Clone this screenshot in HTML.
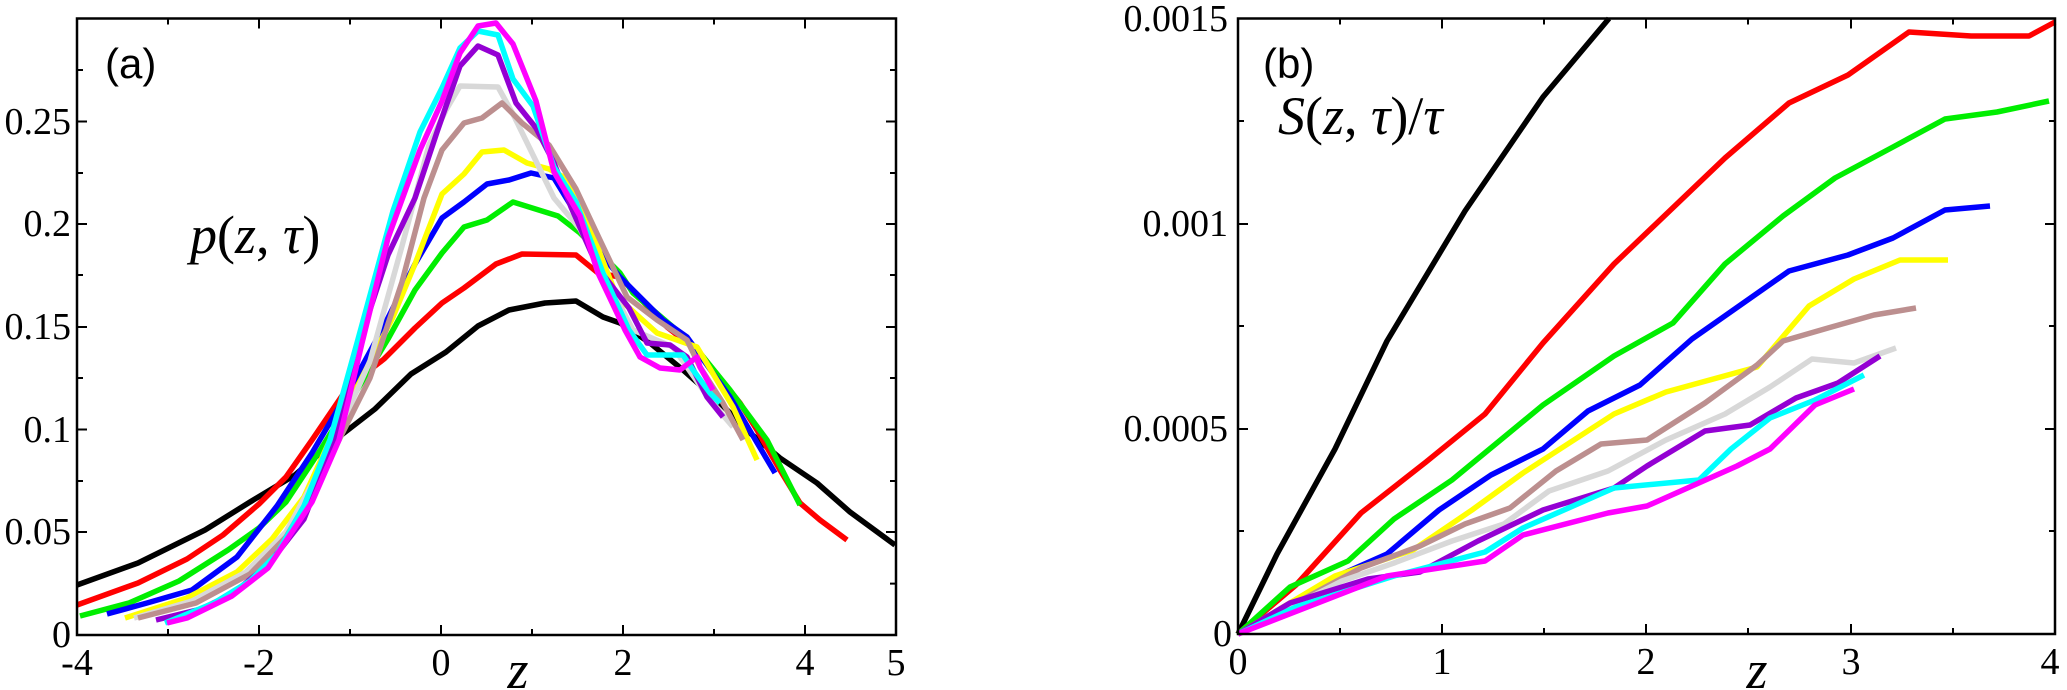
<!DOCTYPE html>
<html><head><meta charset="utf-8"><style>
html,body{margin:0;padding:0;background:#fff;}
svg{display:block;}
.t{font-family:"Liberation Serif",serif;font-size:38px;fill:#000;}
polyline{fill:none;stroke-width:5.5;stroke-linejoin:round;}
</style></head><body>
<svg width="2067" height="690" viewBox="0 0 2067 690" xmlns="http://www.w3.org/2000/svg">
<!-- Panel a -->
<g>
<polyline stroke="#000" points="77,585 138,563 205,530 250,502 295,475 335,440 375,409 411,374 446,352 478,326 509,310 545,303 576,301 603,317 620,323 650,343 683,370 717,400 750,433 780,458 817,483 850,512 895,545"/>
<polyline stroke="#ff0000" points="77,605 138,583 187,559 223,535 259,504 286,477 312,440 348,387 384,359 415,328 442,303 464,288 496,264 522,254 576,255 598,273 620,277 667,327 700,353 727,387 740,403 757,430 780,470 800,503 820,520 847,540"/>
<polyline stroke="#00ee00" points="80,616 129,603 179,581 228,550 259,528 286,502 321,449 348,405 388,339 415,290 442,253 464,227 487,220 513,202 558,216 580,233 620,273 633,293 680,333 700,353 730,390 767,440 800,505"/>
<polyline stroke="#0000ff" points="107,614 147,603 192,590 237,557 277,506 312,453 348,392 384,326 415,264 442,218 464,202 487,184 509,180 531,173 554,178 600,253 620,277 663,320 687,337 730,397 775,473"/>
<polyline stroke="#ffff00" points="125,618 187,598 237,572 272,539 304,497 330,440 357,387 393,317 415,264 442,194 464,174 482,152 504,150 527,163 549,169 569,180 580,202 617,297 657,333 697,347 733,407 757,460"/>
<polyline stroke="#d8d8d8" points="134,618 192,601 246,572 286,532 312,484 339,431 370,361 402,246 429,145 446,110 460,86 498,87 513,114 554,198 580,229 633,330 673,347 710,400 733,427"/>
<polyline stroke="#bc8f8f" points="138,618 196,603 250,574 286,537 312,493 339,440 370,378 402,282 424,198 442,150 464,123 482,118 502,103 522,123 549,145 576,189 600,240 627,297 657,320 687,340 700,367 723,403 743,440"/>
<polyline stroke="#9400d3" points="156,620 201,609 232,594 268,565 304,519 335,440 362,334 388,255 415,198 437,132 460,66 478,46 498,55 516,103 536,128 554,163 571,207 598,268 629,308 647,343 670,345 687,357 707,397 723,417"/>
<polyline stroke="#00ffff" points="165,623 214,603 250,581 277,554 304,506 330,440 357,343 393,211 420,132 442,88 460,48 478,31 498,35 513,79 533,106 554,167 576,202 603,273 629,330 647,355 683,355 693,370 710,393 720,403"/>
<polyline stroke="#ff00ff" points="167,623 187,618 232,596 268,568 312,502 339,440 362,343 388,238 420,150 442,101 460,53 478,26 496,23 513,44 536,101 554,172 580,216 598,273 625,330 640,357 660,368 680,370 697,357 700,367 713,390"/>
<rect x="77" y="18.5" width="819" height="616.5" fill="none" stroke="#000" stroke-width="2.5"/>
<g stroke="#000" stroke-width="2">
<path d="M168,635v-6M168,18.5v6M350,635v-6M350,18.5v6M532,635v-6M532,18.5v6M714,635v-6M714,18.5v6
M259,635v-10M259,18.5v10M441,635v-10M441,18.5v10M623,635v-10M623,18.5v10M805,635v-10M805,18.5v10"/>
<path d="M77,583.6h6M896,583.6h-6M77,481h6M896,481h-6M77,378h6M896,378h-6M77,275h6M896,275h-6M77,173h6M896,173h-6M77,70h6M896,70h-6
M77,532h10M896,532h-10M77,429.5h10M896,429.5h-10M77,327h10M896,327h-10M77,224h10M896,224h-10M77,121.5h10M896,121.5h-10"/>
</g>
<g class="t" text-anchor="end">
<text x="71" y="647">0</text>
<text x="71" y="544">0.05</text>
<text x="71" y="442">0.1</text>
<text x="71" y="339">0.15</text>
<text x="71" y="236">0.2</text>
<text x="71" y="134">0.25</text>
</g>
<g class="t" text-anchor="middle">
<text x="77" y="675">-4</text>
<text x="259" y="675">-2</text>
<text x="441" y="675">0</text>
<text x="623" y="675">2</text>
<text x="805" y="675">4</text>
<text x="896" y="675">5</text>
</g>
<text x="518" y="688" font-family="Liberation Serif,serif" font-style="italic" font-size="54" text-anchor="middle">z</text>
<text x="105" y="78" font-family="Liberation Sans,sans-serif" font-size="42">(a)</text>
<text x="190" y="253" font-family="Liberation Serif,serif" font-size="54"><tspan font-style="italic">p</tspan>(<tspan font-style="italic">z</tspan>, <tspan font-style="italic">τ</tspan>)</text>
</g>
<!-- Panel b -->
<g>
<polyline stroke="#000" points="1238,634 1277,554 1335,449 1387,341 1465,211 1543,97 1609,18.5"/>
<polyline stroke="#ff0000" points="1238,634 1296,585 1361,513 1426,462 1485,414 1543,343 1614,264 1725,158 1789,103 1848,75 1909,32 1971,36 2029,36 2055,22"/>
<polyline stroke="#00ee00" points="1238,634 1290,587 1348,561 1394,519 1452,480 1543,405 1614,356 1673,323 1725,264 1783,216 1835,178 1893,147 1945,119 1997,112 2049,101"/>
<polyline stroke="#0000ff" points="1238,634 1283,609 1342,574 1387,554 1439,510 1491,475 1543,449 1588,411 1640,385 1692,339 1789,271 1848,255 1893,238 1945,210 1990,206"/>
<polyline stroke="#ffff00" points="1238,634 1335,576 1413,550 1472,510 1523,473 1614,414 1666,392 1757,367 1809,306 1854,279 1900,260 1948,260"/>
<polyline stroke="#bc8f8f" points="1238,634 1361,568 1420,546 1465,524 1510,508 1556,471 1601,444 1647,440 1705,403 1757,365 1783,341 1828,328 1874,315 1916,308"/>
<polyline stroke="#d8d8d8" points="1238,634 1342,581 1394,563 1452,541 1504,524 1549,491 1608,471 1666,440 1725,414 1770,387 1812,359 1854,363 1896,348"/>
<polyline stroke="#9400d3" points="1238,634 1290,603 1368,579 1420,572 1478,541 1543,510 1614,488 1647,466 1705,431 1750,425 1796,398 1838,383 1880,356"/>
<polyline stroke="#00ffff" points="1238,634 1296,607 1394,576 1485,552 1523,528 1614,488 1699,480 1731,449 1770,418 1815,400 1864,375"/>
<polyline stroke="#ff00ff" points="1238,634 1387,576 1485,561 1523,535 1608,513 1647,506 1692,486 1737,466 1770,449 1815,405 1854,389"/>
<rect x="1238" y="18.5" width="817" height="615.5" fill="none" stroke="#000" stroke-width="2.5"/>
<g stroke="#000" stroke-width="2">
<path d="M1340,634v-6M1340,18.5v6M1544,634v-6M1544,18.5v6M1748,634v-6M1748,18.5v6M1953,634v-6M1953,18.5v6
M1442,634v-10M1442,18.5v10M1646,634v-10M1646,18.5v10M1851,634v-10M1851,18.5v10"/>
<path d="M1238,531h6M2055,531h-6M1238,326h6M2055,326h-6M1238,121h6M2055,121h-6
M1238,429h10M2055,429h-10M1238,224h10M2055,224h-10"/>
</g>
<g class="t" text-anchor="end">
<text x="1232" y="646">0</text>
<text x="1228" y="441">0.0005</text>
<text x="1228" y="236">0.001</text>
<text x="1228" y="31">0.0015</text>
</g>
<g class="t" text-anchor="middle">
<text x="1238" y="674">0</text>
<text x="1442" y="674">1</text>
<text x="1646" y="674">2</text>
<text x="1851" y="674">3</text>
<text x="2050" y="674">4</text>
</g>
<text x="1757" y="688" font-family="Liberation Serif,serif" font-style="italic" font-size="54" text-anchor="middle">z</text>
<text x="1263" y="78" font-family="Liberation Sans,sans-serif" font-size="42">(b)</text>
<text x="1278" y="134" font-family="Liberation Serif,serif" font-size="54"><tspan font-style="italic">S</tspan>(<tspan font-style="italic">z</tspan>, <tspan font-style="italic">τ</tspan>)/<tspan font-style="italic">τ</tspan></text>
</g>
</svg>
</body></html>
